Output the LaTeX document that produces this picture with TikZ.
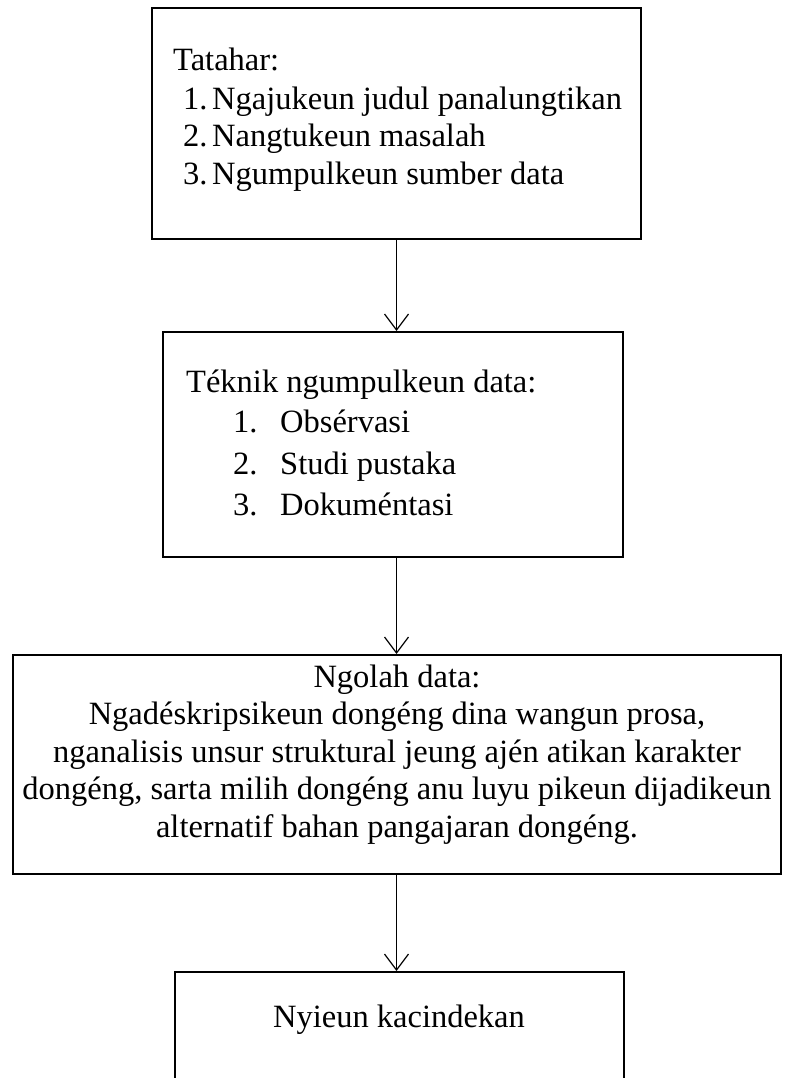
\documentclass[tikz,border=0pt]{standalone}
\usepackage{fontspec}
\setmainfont{Liberation Serif}
\usetikzlibrary{arrows.meta}
\begin{document}
\begin{tikzpicture}[x=1pt,y=-1pt,
  box/.style={draw, line width=2pt, rectangle, inner sep=0pt},
  txt/.style={font=\fontsize{32.5}{37}\selectfont, inner sep=0pt, anchor=base west},
  ctxt/.style={font=\fontsize{32.5}{37}\selectfont, inner sep=0pt, anchor=base},
  link/.style={line width=1.2pt, -{Straight Barb[length=16pt,width=24pt,line width=1.2pt]}}]
\useasboundingbox (0,0) rectangle (784,1078);
\fill[white] (0,0) rectangle (784,1078);
% boxes
\node[box, minimum width=489pt, minimum height=231pt] (b1) at (396.5,123.5) {};
\node[box, minimum width=460pt, minimum height=225pt] (b2) at (393,444.5) {};
\node[box, minimum width=768pt, minimum height=219pt] (b3) at (397,764.5) {};
\node[box, minimum width=449pt, minimum height=140pt] (b4) at (399.5,1042) {};
% box 1 text
\node[txt] (t1) at (173,71) {Tatahar:};
\node[txt] (t1n1) at (183,110) {1.};
\node[txt] (t1i1) at (212,110) {Ngajukeun judul panalungtikan};
\node[txt] (t1n2) at (183,147) {2.};
\node[txt] (t1i2) at (212,147) {Nangtukeun masalah};
\node[txt] (t1n3) at (183,185) {3.};
\node[txt] (t1i3) at (212,185) {Ngumpulkeun sumber data};
% box 2 text
\node[txt] (t2) at (186,392) {Téknik ngumpulkeun data:};
\node[txt] (t2n1) at (233,432) {1.};
\node[txt] (t2i1) at (280,432) {Obsérvasi};
\node[txt] (t2n2) at (233,474) {2.};
\node[txt] (t2i2) at (280,474) {Studi pustaka};
\node[txt] (t2n3) at (233,515) {3.};
\node[txt] (t2i3) at (280,515) {Dokuméntasi};
% box 3 text
\node[ctxt] (t3a) at (397,687) {Ngolah data:};
\node[ctxt] (t3b) at (397,724) {Ngadéskripsikeun dongéng dina wangun prosa,};
\node[ctxt] (t3c) at (397,762) {nganalisis unsur struktural jeung ajén atikan karakter};
\node[ctxt] (t3d) at (397,799) {dongéng, sarta milih dongéng anu luyu pikeun dijadikeun};
\node[ctxt] (t3e) at (397,837) {alternatif bahan pangajaran dongéng.};
% box 4 text
\node[ctxt] (t4) at (399,1027) {Nyieun kacindekan};
% connectors
\draw[link] (b1.south) -- (b1.south |- b2.north);
\draw[link] (b2.south -| b1.south) -- (b1.south |- b3.north);
\draw[link] (b3.south -| b1.south) -- (b1.south |- b4.north);
\end{tikzpicture}
\end{document}
